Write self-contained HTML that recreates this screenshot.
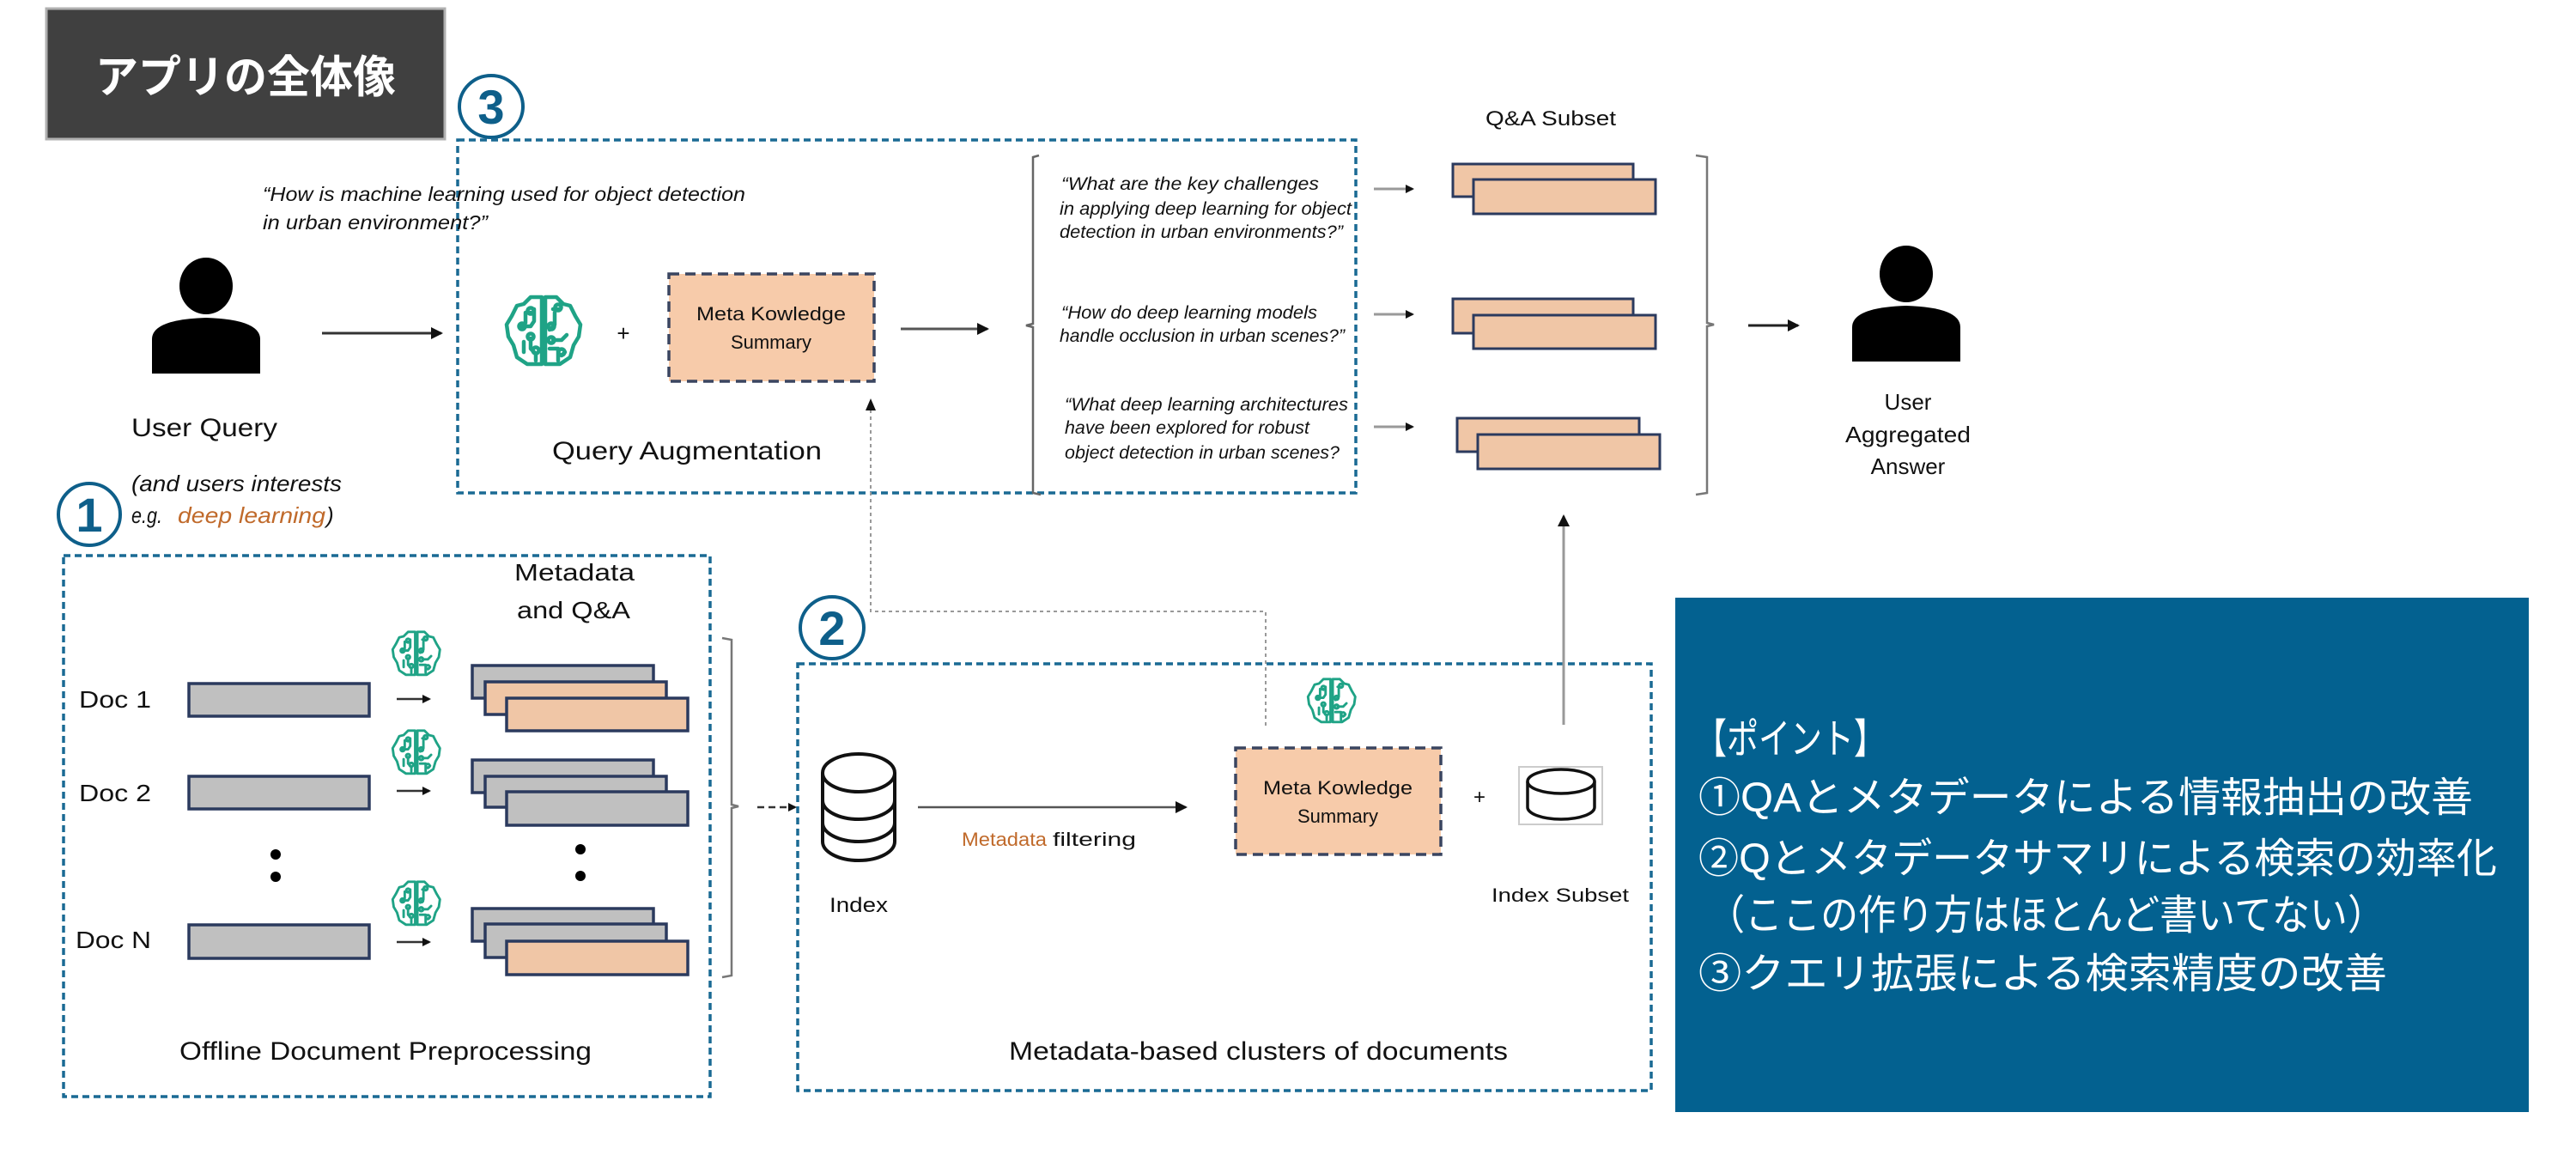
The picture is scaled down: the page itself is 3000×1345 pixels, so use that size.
<!DOCTYPE html>
<html><head><meta charset="utf-8"><style>
html,body{margin:0;padding:0;background:#fff;}
svg{display:block;}
text{font-family:"Liberation Sans","Noto Sans CJK JP",sans-serif;fill:#111;}
.it{font-style:italic;}
</style></head><body>
<svg width="3000" height="1345" viewBox="0 0 3000 1345" xmlns="http://www.w3.org/2000/svg">
<defs>
<marker id="ah" markerWidth="10" markerHeight="10" refX="8" refY="5" orient="auto" markerUnits="userSpaceOnUse">
<path d="M0,0 L10,5 L0,10 z" fill="#111"/></marker>
<marker id="ahs" markerWidth="14" markerHeight="14" refX="12" refY="7" orient="auto" markerUnits="userSpaceOnUse">
<path d="M0,0 L14,7 L0,14 z" fill="#111"/></marker>
<g id="brain" fill="none" stroke="#1fa386" stroke-width="4.5" stroke-linejoin="round" stroke-linecap="round">
<path d="M43,6 L30,6 L22,14 L14,16 L8,28 L2,38 L4,52 L10,62 L14,76 L26,84 L43,84 Z"/>
<path d="M47,6 L60,6 L68,14 L76,16 L82,28 L88,38 L86,52 L80,62 L76,76 L64,84 L47,84 Z"/>
<path d="M30,24 L24,24 L24,36 M20,40 L30,40 L34,34 L34,20 M30,54 L30,66 L36,72 L36,80 M22,58 L22,70"/>
<circle cx="30" cy="22" r="3.5"/><circle cx="20" cy="40" r="3.5"/><circle cx="30" cy="52" r="3.5"/><circle cx="36" cy="68" r="3.5"/>
<path d="M56,20 L62,20 M58,24 L58,38 L52,44 M56,56 L66,56 L72,50 M52,66 L62,66 L62,80 M70,70 L66,74"/>
<circle cx="62" cy="18" r="3.5"/><circle cx="54" cy="40" r="3.5"/><circle cx="54" cy="56" r="3.5"/><circle cx="66" cy="70" r="3.5"/>
</g>
<g id="person" fill="#000">
<ellipse cx="0" cy="33" rx="31" ry="33"/>
<path d="M-63,135 L-63,95 Q-63,72 0,70 Q63,72 63,95 L63,135 Z"/>
</g>
</defs>

<!-- Title -->
<rect x="54" y="10" width="464" height="152" fill="#404040" stroke="#b0b0b0" stroke-width="3"/>
<text x="286" y="108" text-anchor="middle" font-size="52" font-weight="bold" style="fill:#fff" textLength="350" lengthAdjust="spacingAndGlyphs">アプリの全体像</text>

<!-- Circles -->
<g fill="#fff" stroke="#0e5f8a" stroke-width="4">
<ellipse cx="572" cy="124" rx="37" ry="36"/>
<ellipse cx="104" cy="599" rx="36" ry="36"/>
<ellipse cx="969" cy="731" rx="37" ry="36"/>
</g>
<g font-size="56" font-weight="bold" text-anchor="middle" style="fill:#0e5f8a">
<text x="572" y="144" style="fill:#0e5f8a">3</text>
<text x="104" y="619" style="fill:#0e5f8a">1</text>
<text x="969" y="751" style="fill:#0e5f8a">2</text>
</g>

<!-- Dashed boxes -->
<g fill="none" stroke="#1a6a94" stroke-width="3.5" stroke-dasharray="8,5">
<rect x="533" y="163" width="1046" height="411"/>
<rect x="74" y="647" width="753" height="630"/>
<rect x="929" y="773" width="994" height="497"/>
</g>

<!-- Left user -->
<use href="#person" x="240" y="300"/>
<line x1="375" y1="388" x2="514" y2="388" stroke="#333" stroke-width="3" marker-end="url(#ahs)"/>
<text x="153" y="508" font-size="30" textLength="170" lengthAdjust="spacingAndGlyphs">User Query</text>
<text x="153" y="572" font-size="26" class="it" textLength="245" lengthAdjust="spacingAndGlyphs">(and users interests</text>
<text x="153" y="609" font-size="26" class="it" textLength="36" lengthAdjust="spacingAndGlyphs">e.g.</text>
<text x="207" y="609" font-size="26" class="it" style="fill:#c06a2b" textLength="172" lengthAdjust="spacingAndGlyphs">deep learning</text>
<text x="380" y="609" font-size="26" class="it">)</text>

<text x="306" y="234" font-size="23" class="it" textLength="562" lengthAdjust="spacingAndGlyphs">“How is machine learning used for object detection</text>
<text x="306" y="267" font-size="23" class="it" textLength="262" lengthAdjust="spacingAndGlyphs">in urban environment?”</text>

<!-- Box3 contents -->
<use href="#brain" x="588" y="340"/>
<text x="726" y="397" font-size="26" text-anchor="middle">+</text>
<rect x="779" y="319" width="239" height="125" fill="#f7cbaa" stroke="#3a4560" stroke-width="3.5" stroke-dasharray="12,7"/>
<text x="898" y="373" font-size="22" text-anchor="middle" textLength="174" lengthAdjust="spacingAndGlyphs">Meta Kowledge</text>
<text x="898" y="406" font-size="22" text-anchor="middle">Summary</text>
<line x1="1049" y1="383" x2="1150" y2="383" stroke="#555" stroke-width="3" marker-end="url(#ahs)"/>
<text x="643" y="535" font-size="30" textLength="314" lengthAdjust="spacingAndGlyphs">Query Augmentation</text>

<!-- left bracket of questions -->
<path d="M1210,181 L1203,183 L1203,377 L1195,379 L1203,381 L1203,574 L1212,576" fill="none" stroke="#666" stroke-width="2.5"/>

<g font-size="21" class="it">
<text x="1236" y="221" class="it" textLength="300" lengthAdjust="spacingAndGlyphs">“What are the key challenges</text>
<text x="1234" y="250" class="it" textLength="340" lengthAdjust="spacingAndGlyphs">in applying deep learning for object</text>
<text x="1234" y="277" class="it" textLength="330" lengthAdjust="spacingAndGlyphs">detection in urban environments?”</text>
<text x="1236" y="371" class="it" textLength="298" lengthAdjust="spacingAndGlyphs">“How do deep learning models</text>
<text x="1234" y="398" class="it" textLength="332" lengthAdjust="spacingAndGlyphs">handle occlusion in urban scenes?”</text>
<text x="1240" y="478" class="it" textLength="330" lengthAdjust="spacingAndGlyphs">“What deep learning architectures</text>
<text x="1240" y="505" class="it" textLength="285" lengthAdjust="spacingAndGlyphs">have been explored for robust</text>
<text x="1240" y="534" class="it" textLength="320" lengthAdjust="spacingAndGlyphs">object detection in urban scenes?</text>
</g>

<!-- Q&A Subset -->
<text x="1730" y="146" font-size="24" textLength="152" lengthAdjust="spacingAndGlyphs">Q&amp;A Subset</text>
<g stroke="#999" stroke-width="3">
<line x1="1600" y1="220" x2="1645" y2="220" marker-end="url(#ah)"/>
<line x1="1600" y1="366" x2="1645" y2="366" marker-end="url(#ah)"/>
<line x1="1600" y1="497" x2="1645" y2="497" marker-end="url(#ah)"/>
</g>
<g fill="#f0c6a6" stroke="#2b3a5e" stroke-width="3">
<rect x="1692" y="191" width="210" height="38"/>
<rect x="1716" y="209" width="212" height="40"/>
<rect x="1692" y="348" width="210" height="40"/>
<rect x="1716" y="367" width="212" height="39"/>
<rect x="1697" y="487" width="212" height="39"/>
<rect x="1721" y="506" width="212" height="40"/>
</g>
<path d="M1975,181 L1988,183 L1988,376 L1996,378 L1988,380 L1988,574 L1975,576" fill="none" stroke="#777" stroke-width="2.5"/>
<line x1="2036" y1="379" x2="2094" y2="379" stroke="#222" stroke-width="3" marker-end="url(#ahs)"/>

<use href="#person" x="2220" y="286"/>
<g font-size="26" text-anchor="middle">
<text x="2222" y="477">User</text>
<text x="2222" y="515" textLength="146" lengthAdjust="spacingAndGlyphs">Aggregated</text>
<text x="2222" y="552">Answer</text>
</g>
<line x1="1821" y1="844" x2="1821" y2="601" stroke="#999" stroke-width="3" marker-end="url(#ahs)"/>

<!-- dotted connector -->
<path d="M1474,845 L1474,712 L1014,712 L1014,476" fill="none" stroke="#999" stroke-width="2" stroke-dasharray="4,4"/>
<path d="M1008,478 L1014,464 L1020,478 z" fill="#111"/>

<!-- Box1 contents -->
<g font-size="28">
<text x="599" y="676" textLength="140" lengthAdjust="spacingAndGlyphs">Metadata</text>
<text x="602" y="720" textLength="132" lengthAdjust="spacingAndGlyphs">and Q&amp;A</text>
<text x="92" y="824" textLength="84" lengthAdjust="spacingAndGlyphs">Doc 1</text>
<text x="92" y="933" textLength="84" lengthAdjust="spacingAndGlyphs">Doc 2</text>
<text x="88" y="1104" textLength="88" lengthAdjust="spacingAndGlyphs">Doc N</text>
</g>
<g fill="#c0c0c0" stroke="#2b3a5e" stroke-width="3.5">
<rect x="220" y="796" width="210" height="38"/>
<rect x="220" y="904" width="210" height="38"/>
<rect x="220" y="1077" width="210" height="39"/>
</g>
<g fill="#000">
<circle cx="321" cy="995" r="6"/><circle cx="321" cy="1021" r="6"/>
<circle cx="676" cy="989" r="6"/><circle cx="676" cy="1020" r="6"/>
</g>
<use href="#brain" x="0" y="0" transform="translate(456,732) scale(0.64)"/>
<use href="#brain" x="0" y="0" transform="translate(456,847) scale(0.64)"/>
<use href="#brain" x="0" y="0" transform="translate(456,1023) scale(0.64)"/>
<g stroke="#333" stroke-width="2.5">
<line x1="462" y1="814" x2="500" y2="814" marker-end="url(#ah)"/>
<line x1="462" y1="921" x2="500" y2="921" marker-end="url(#ah)"/>
<line x1="462" y1="1097" x2="500" y2="1097" marker-end="url(#ah)"/>
</g>
<g stroke="#2b3a5e" stroke-width="3.5">
<rect x="550" y="775" width="211" height="38" fill="#c0c0c0"/>
<rect x="565" y="794" width="211" height="38" fill="#f0c6a6"/>
<rect x="590" y="813" width="211" height="38" fill="#f0c6a6"/>
<rect x="550" y="885" width="211" height="38" fill="#c0c0c0"/>
<rect x="565" y="904" width="211" height="36" fill="#c0c0c0"/>
<rect x="590" y="922" width="211" height="39" fill="#c0c0c0"/>
<rect x="550" y="1058" width="211" height="38" fill="#c0c0c0"/>
<rect x="565" y="1076" width="211" height="39" fill="#c0c0c0"/>
<rect x="590" y="1096" width="211" height="39" fill="#f0c6a6"/>
</g>
<path d="M841,743 L852,745 L852,937 L860,939 L852,941 L852,1136 L841,1138" fill="none" stroke="#777" stroke-width="2.5"/>
<line x1="882" y1="940" x2="926" y2="940" stroke="#333" stroke-width="2.5" stroke-dasharray="8,5" marker-end="url(#ah)"/>
<text x="209" y="1234" font-size="30" textLength="480" lengthAdjust="spacingAndGlyphs">Offline Document Preprocessing</text>

<!-- Box2 contents -->
<g fill="#fff" stroke="#111" stroke-width="4">
<path d="M958,900 L958,980 A42,22 0 0 0 1042,980 L1042,900"/>
<ellipse cx="1000" cy="900" rx="42" ry="22"/>
<path d="M958,932 A42,22 0 0 0 1042,932" fill="none"/>
<path d="M958,958 A42,22 0 0 0 1042,958" fill="none"/>
</g>
<text x="966" y="1062" font-size="24" textLength="68" lengthAdjust="spacingAndGlyphs">Index</text>
<line x1="1069" y1="940" x2="1381" y2="940" stroke="#555" stroke-width="2.5" marker-end="url(#ahs)"/>
<text x="1120" y="985" font-size="22" style="fill:#c06a2b" textLength="99" lengthAdjust="spacingAndGlyphs">Metadata</text>
<text x="1226" y="985" font-size="22" textLength="97" lengthAdjust="spacingAndGlyphs">filtering</text>
<use href="#brain" x="0" y="0" transform="translate(1522,787) scale(0.64)"/>
<rect x="1439" y="871" width="239" height="124" fill="#f7cbaa" stroke="#3a4560" stroke-width="3.5" stroke-dasharray="12,7"/>
<text x="1558" y="925" font-size="22" text-anchor="middle" textLength="174" lengthAdjust="spacingAndGlyphs">Meta Kowledge</text>
<text x="1558" y="958" font-size="22" text-anchor="middle">Summary</text>
<text x="1723" y="936" font-size="24" text-anchor="middle">+</text>
<rect x="1769" y="893" width="97" height="67" fill="#fff" stroke="#ccc" stroke-width="2"/>
<g fill="none" stroke="#111" stroke-width="3.5">
<path d="M1779,910 L1779,940 A39,14 0 0 0 1857,940 L1857,910"/>
<ellipse cx="1818" cy="910" rx="39" ry="14"/>
</g>
<text x="1737" y="1050" font-size="22" textLength="160" lengthAdjust="spacingAndGlyphs">Index Subset</text>
<text x="1175" y="1234" font-size="30" textLength="581" lengthAdjust="spacingAndGlyphs">Metadata-based clusters of documents</text>

<!-- Blue panel -->
<rect x="1951" y="696" width="994" height="599" fill="#036190"/>
<g font-size="48" style="fill:#fff">
<text x="1974" y="877" style="fill:#fff" textLength="222" lengthAdjust="spacingAndGlyphs">【ポイント】</text>
<text x="1978" y="945" style="fill:#fff" textLength="902" lengthAdjust="spacingAndGlyphs">①QAとメタデータによる情報抽出の改善</text>
<text x="1978" y="1016" style="fill:#fff" textLength="930" lengthAdjust="spacingAndGlyphs">②Qとメタデータサマリによる検索の効率化</text>
<text x="1988" y="1082" style="fill:#fff" textLength="790" lengthAdjust="spacingAndGlyphs">（ここの作り方はほとんど書いてない）</text>
<text x="1978" y="1150" style="fill:#fff" textLength="802" lengthAdjust="spacingAndGlyphs">③クエリ拡張による検索精度の改善</text>
</g>
</svg>
</body></html>
